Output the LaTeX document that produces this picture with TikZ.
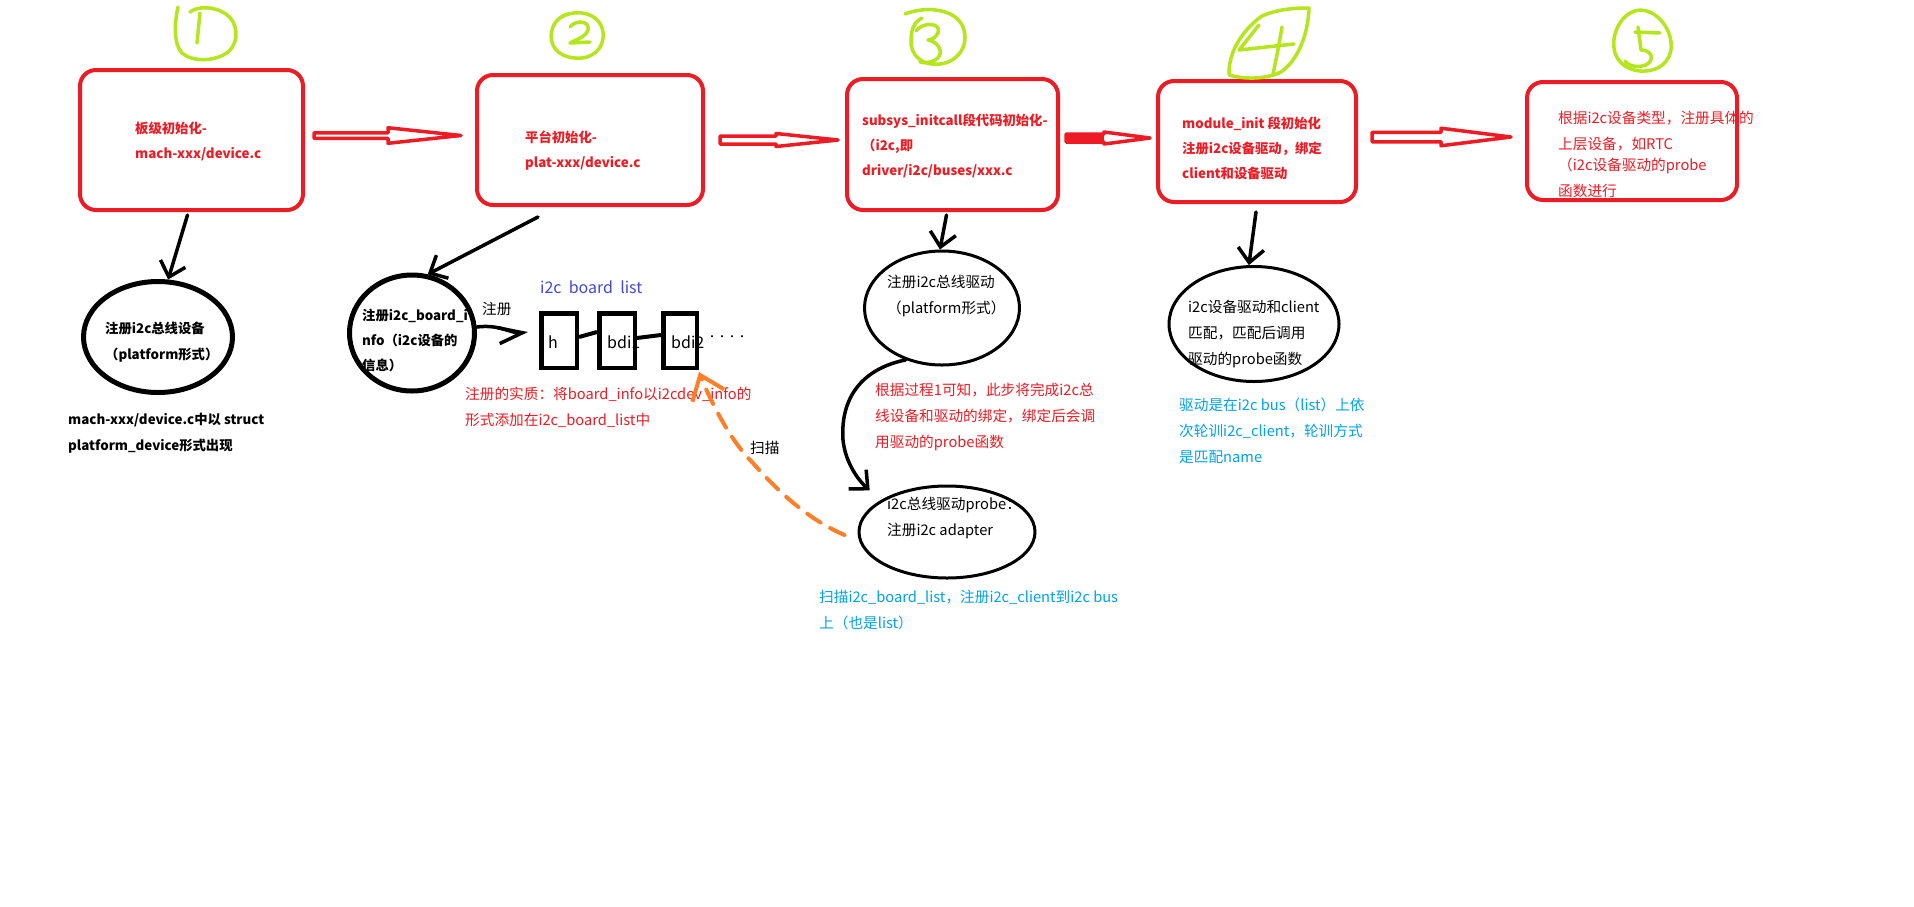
\documentclass[tikz,border=0pt]{standalone}
\usepackage{fontspec}
\setmainfont{Noto Sans CJK SC}
\usetikzlibrary{calc,arrows.meta,shapes.geometric}

\definecolor{boxred}{HTML}{ED1C24}
\definecolor{numgreen}{HTML}{B5E61D}
\definecolor{scanorange}{HTML}{FF7F27}
\definecolor{noteblue}{HTML}{00A2E8}
\definecolor{listblue}{HTML}{4349D6}

% outlined block arrow between two stages:
% [extra style]{tail}{tip}{head length}{shaft half width}{head half width}
\newcommand\hollowarrow[6][]{%
  \draw[fatarrowline,#1] let \p1=(#2), \p2=(#3) in
    (\x1,\y1+#5) -- (\x2-#4,\y1+#5) -- (\x2-#4,\y1+#6) -- (\x2,\y1)
    -- (\x2-#4,\y1-#6) -- (\x2-#4,\y1-#5) -- (\x1,\y1-#5) -- cycle;}

\tikzset{
  stagebox/.style={draw=boxred, line width=4pt, rounded corners=16pt, inner sep=0pt},
  bubble/.style={draw=black, ellipse, inner sep=0pt},
  cell/.style={draw=black, line width=4.5pt, inner sep=0pt, minimum width=35.5pt, minimum height=54.5pt},
  stagetext/.style={anchor=north west, inner sep=0pt, align=left, text=boxred,
    font=\bfseries\fontsize{13.33}{25}\selectfont},
  boldtext/.style={anchor=north west, inner sep=0pt, align=left,
    font=\bfseries\fontsize{13.33}{26}\selectfont},
  plaintext/.style={anchor=north west, inner sep=0pt, align=left,
    font=\fontsize{14.67}{26}\selectfont},
  celltext/.style={anchor=west, inner sep=0pt, font=\fontsize{16}{18}\selectfont},
  handarrow/.style={draw=black, line width=3.5pt, line cap=round, line join=round,
    -{Straight Barb[length=14pt,width=26pt]}},
  link/.style={draw=black, line width=4pt},
  scanpath/.style={draw=scanorange, line width=4pt, line cap=round,
    dash pattern=on 16pt off 11pt, -{Straight Barb[length=22pt,width=34pt]}},
  numstroke/.style={draw=numgreen, line width=3.5pt, line cap=round, line join=round},
  fatarrowline/.style={draw=boxred, line width=3.5pt, fill=white, line join=round},
}

\begin{document}
\begin{tikzpicture}[x=1pt, y=-1pt]
\fill[white] (0,0) rectangle (1914,906);
\useasboundingbox (0,0) rectangle (1914,906);

% ---------- stage boxes ----------
\node[stagebox, minimum width=223pt, minimum height=140pt] (b1) at (191.5,140) {};
\node[stagebox, minimum width=226pt, minimum height=130pt] (b2) at (590,140) {};
\node[stagebox, minimum width=211pt, minimum height=131pt] (b3) at (952.5,144.5) {};
\node[stagebox, minimum width=198pt, minimum height=121pt] (b4) at (1257,141.5) {};
\node[stagebox, minimum width=210pt, minimum height=118pt] (b5) at (1632,141) {};

\node[stagetext] (b1t) at (135,121.5) {板级初始化-\\mach-xxx/device.c};
\node[stagetext] (b2t) at (525,130.5) {平台初始化-\\plat-xxx/device.c};
\node[stagetext] (b3t) at (862,113.5) {subsys\_initcall段代码初始化-\\（i2c,即\\driver/i2c/buses/xxx.c};
\node[stagetext] (b4t) at (1182,116.5) {module\_init 段初始化\\注册i2c设备驱动，绑定\\client和设备驱动};
\node[plaintext, text=boxred] (b5t) at (1558,111) {根据i2c设备类型，注册具体的\\上层设备，如RTC\\[-5pt]（i2c设备驱动的probe\\函数进行};

% ---------- stage numbers ----------
\draw[numstroke] (178,7) .. controls (174,25) and (174,45) .. (182,53)
  .. controls (192,62) and (215,62) .. (228,52) .. controls (240,42) and (238,22) .. (226,14)
  .. controls (214,6) and (198,6) .. (190,12);
\draw[numstroke] (200,13) -- (197,43);

\draw[numstroke] (560,18) .. controls (575,8) and (600,12) .. (603,32)
  .. controls (605,50) and (590,60) .. (575,58) .. controls (558,57) and (548,45) .. (552,30)
  .. controls (554,22) and (560,16) .. (568,14);
\draw[numstroke] (570,27) .. controls (575,20) and (590,20) .. (588,30)
  .. controls (586,37) and (575,40) .. (570,43) -- (590,42);

\draw[numstroke] (905,14) .. controls (925,6) and (955,8) .. (963,27)
  .. controls (970,45) and (958,62) .. (940,64) .. controls (922,66) and (910,55) .. (911,40)
  .. controls (911,30) and (914,22) .. (922,18);
\draw[numstroke] (916,31) .. controls (922,22) and (942,22) .. (938,33)
  .. controls (936,38) and (930,40) .. (928,40) .. controls (940,42) and (945,55) .. (935,60)
  .. controls (930,63) and (924,63) .. (920,62);

\draw[numstroke] (1229,75) .. controls (1228,50) and (1245,28) .. (1262,16)
  .. controls (1280,8) and (1300,8) .. (1309,8) .. controls (1308,35) and (1298,60) .. (1281,72)
  .. controls (1265,80) and (1242,79) .. (1229,75);
\draw[numstroke] (1259,25) -- (1239,50) -- (1294,44);
\draw[numstroke] (1282,27) .. controls (1279,45) and (1276,60) .. (1273,74);

\draw[numstroke] (1640,10) .. controls (1620,12) and (1612,35) .. (1614,48)
  .. controls (1616,65) and (1632,72) .. (1645,71) .. controls (1665,70) and (1673,55) .. (1671,42)
  .. controls (1669,25) and (1655,10) .. (1640,10);
\draw[numstroke] (1635,32) -- (1660,33);
\draw[numstroke] (1638,27) -- (1641,50) .. controls (1652,50) and (1655,60) .. (1646,65)
  .. controls (1638,68) and (1628,66) .. (1625,61);

% ---------- block arrows between stages ----------
\coordinate (a1s) at ($(b1.east)+(9,-4.5)$);
\coordinate (a1e) at ($(b2.west)+(-14,-4.5)$);
\coordinate (a2s) at ($(b2.east)+(15,0)$);
\coordinate (a2e) at ($(b3.west)+(-7,-4.5)$);
\coordinate (a3s) at ($(b3.east)+(6,-6.5)$);
\coordinate (a3e) at ($(b4.west)+(-6,-3.5)$);
\coordinate (a4s) at ($(b4.east)+(14,-4.5)$);
\coordinate (a4e) at ($(b5.west)+(-14,-4)$);
\hollowarrow{a1s}{a1e}{73pt}{2.75pt}{7.75pt}
\hollowarrow{a2s}{a2e}{62pt}{4pt}{6.5pt}
\hollowarrow{a3s}{a3e}{46pt}{4pt}{6pt}
\fill[boxred] let \p1=(a3s), \p2=(a3e) in (\x1,\y1+5.5pt) rectangle (\x2-46pt,\y1-5.5pt);
\hollowarrow{a4s}{a4e}{70pt}{4.75pt}{8.75pt}

% ---------- stage 1 ----------
\node[bubble, line width=5pt, minimum width=149pt, minimum height=111pt] (e1) at (158,337) {};
\node[boldtext] (e1t) at (105,321.5) {注册i2c总线设备\\（platform形式）};
\node[boldtext] (e1n) at (68,412.5) {mach-xxx/device.c中以 struct\\platform\_device形式出现};
\draw[handarrow] ($(b1.south)+(-4,3)$) -- (e1.80);

% ---------- stage 2 ----------
\node[bubble, line width=5pt, minimum width=125pt, minimum height=116pt] (e2) at (412,333) {};
\node[boldtext, font=\bfseries\fontsize{13.33}{25}\selectfont] (e2t) at (362,308.5) {注册i2c\_board\_i\\nfo（i2c设备的\\信息）};
\draw[handarrow] ($(b2.south)+(-52,10)$) -- (e2.75);

\node[celltext] (ht) at (548,342) {h};
\node[celltext] (bd1t) at (607,342) {bdi1};
\node[celltext] (bd2t) at (671,342) {bdi2};
\node[cell] (h) at (559,340.5) {};
\node[cell] (bd1) at (617,340.5) {};
\node[cell, minimum width=33.5pt] (bd2) at (680,340.5) {};
\node[anchor=west, inner sep=0pt, font=\fontsize{10}{12}\selectfont] (more) at (707,338) {····};
\draw[link] ($(h.east)+(0,-3.5)$) -- ($(bd1.west)+(0,-8.5)$);
\draw[link] ($(bd1.east)+(0,-2.5)$) -- ($(bd2.west)+(0,-5.5)$);

\node[anchor=north west, inner sep=0pt, text=listblue, font=\fontsize{16}{18}\selectfont] (listname) at (540,281) {i2c\ \ board\ \ list};
\node[plaintext] (reg) at (482,302) {注册};
\draw[handarrow, -{Straight Barb[length=24pt,width=16pt]}] ($(e2.east)+(0,-6)$)
  .. controls (500,324) and (512,334) .. ($(h.west)+(-11,-8.5)$);
\node[plaintext, text=boxred] (note2) at (465,387) {注册的实质：将board\_info以i2cdev\_info的\\形式添加在i2c\_board\_list中};

% ---------- stage 3 ----------
\node[bubble, line width=3pt, minimum width=155pt, minimum height=114pt] (e3) at (942,308) {};
\node[plaintext] (e3t) at (887,275) {注册i2c总线驱动\\（platform形式）};
\draw[handarrow] ($(b3.south)+(-6,3)$) -- (e3.92);
\node[plaintext, text=boxred] (note3) at (875,383) {根据过程1可知，此步将完成i2c总\\线设备和驱动的绑定，绑定后会调\\用驱动的probe函数};

\node[bubble, line width=3pt, minimum width=176pt, minimum height=92pt] (e4) at (947,532) {};
\node[plaintext] (e4t) at (887,497) {i2c总线驱动probe：\\注册i2c adapter};
\draw[handarrow] (e3.235) .. controls (865,368) and (840,395) .. (843,440)
  .. controls (845,460) and (856,478) .. ($(e4.north west)+(-14,-8)$);
\node[plaintext, text=noteblue] (note4) at (819,590) {扫描i2c\_board\_list，注册i2c\_client到i2c bus\\上（也是list）};

\draw[scanpath] ($(e4.west)+(-13,3)$) .. controls (805,518) and (775,488) .. (752,462)
  .. controls (728,438) and (708,395) .. ($(bd2.south east)+(0,2)$);
\node[plaintext] (scan) at (750,441) {扫描};

% ---------- stage 4 ----------
\node[bubble, line width=3pt, minimum width=170pt, minimum height=115pt] (e5) at (1254,324) {};
\node[plaintext] (e5t) at (1188,300) {i2c设备驱动和client\\匹配，匹配后调用\\驱动的probe函数};
\draw[handarrow] ($(b4.south)+(-1,8)$) -- (e5.95);
\node[plaintext, text=noteblue] (note5) at (1179,398) {驱动是在i2c bus（list）上依\\次轮训i2c\_client，轮训方式\\是匹配name};

\end{tikzpicture}
\end{document}
